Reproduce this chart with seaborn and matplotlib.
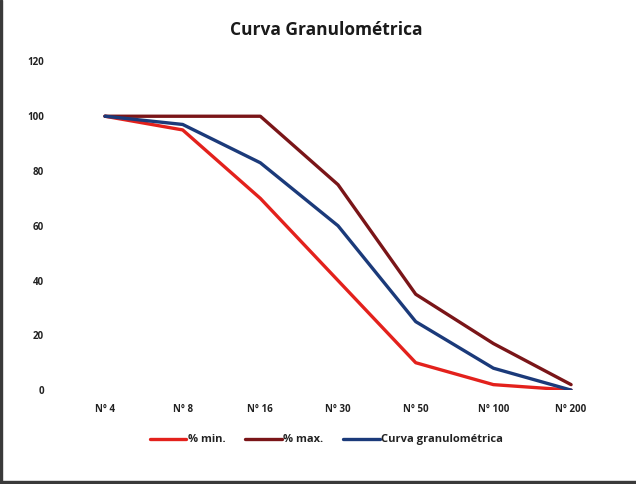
import matplotlib
matplotlib.use("Agg")
import matplotlib.pyplot as plt
from matplotlib.patches import Rectangle
import seaborn as sns
import pandas as pd

# Sieve sizes and passing percentages
tamices = ["N° 4", "N° 8", "N° 16", "N° 30", "N° 50", "N° 100", "N° 200"]
pct_min = [100, 95, 70, 40, 10, 2, 0]
pct_max = [100, 100, 100, 75, 35, 17, 2]
curva = [100, 97, 83, 60, 25, 8, 0]
series = ["% min.", "% max.", "Curva granulométrica"]
colores = ["#e3211c", "#7a1518", "#1b3a7a"]

df = pd.concat([
    pd.DataFrame({"pos": range(len(tamices)), "valor": vals, "serie": name})
    for name, vals in zip(series, [pct_min, pct_max, curva])
])

sns.set_theme(style="white")
plt.rcParams["font.family"] = ["Open Sans", "DejaVu Sans"]

fig = plt.figure(figsize=(6.36, 4.84), dpi=100)
ax = fig.add_axes([0.104, 0.194, 0.855, 0.679])

sns.lineplot(data=df, x="pos", y="valor", hue="serie", hue_order=series,
             palette=colores, linewidth=2.4, ax=ax, legend=True)

ax.set_xlim(-0.5, len(tamices) - 0.5)
ax.set_ylim(0, 120)
ax.set_xticks(range(len(tamices)))
ax.set_xticklabels(tamices, fontsize=7, fontweight="bold", color="#222222")
ax.set_yticks(range(0, 121, 20))
ax.set_yticklabels([str(v) for v in range(0, 121, 20)], fontsize=7,
                   fontweight="bold", color="#222222")
ax.tick_params(axis="both", length=0)
ax.tick_params(axis="y", pad=16)
ax.tick_params(axis="x", pad=10)
ax.set_xlabel("")
ax.set_ylabel("")
for s in ax.spines.values():
    s.set_visible(False)

fig.text(0.513, 0.937, "Curva Granulométrica", ha="center", va="center",
         fontsize=12.5, fontweight="bold", color="#1a1a1a")

handles, labels = ax.get_legend_handles_labels()
leg = ax.legend(handles, labels, loc="center", bbox_to_anchor=(0.513, 0.091),
                bbox_transform=fig.transFigure, ncol=3, frameon=False,
                prop={"size": 8, "weight": "bold"}, handlelength=3.3,
                handletextpad=0.1, columnspacing=1.8)
for t in leg.get_texts():
    t.set_color("#222222")

# dark frame edges around the figure
edge = "#3a3a3a"
fig.patches.extend([
    Rectangle((0, 0), 0.003, 1, transform=fig.transFigure, color=edge, zorder=5),
    Rectangle((0, 0), 1, 0.006, transform=fig.transFigure, color=edge, zorder=5),
])

fig.savefig("out.png", dpi=100, facecolor="white")
